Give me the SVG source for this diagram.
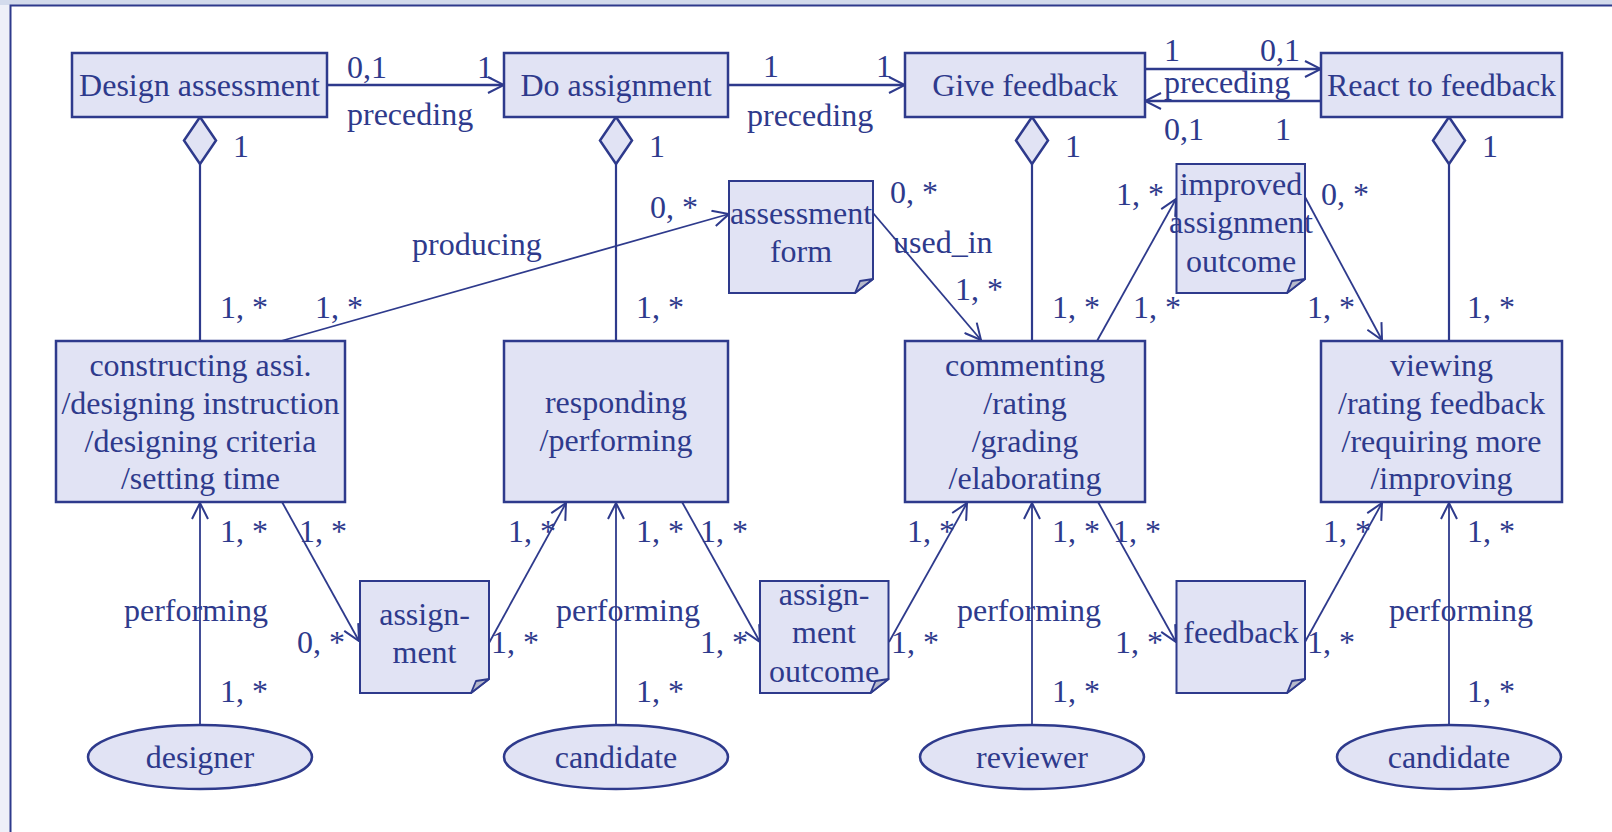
<svg xmlns="http://www.w3.org/2000/svg" width="1612" height="832" viewBox="0 0 1612 832">
<defs>
<style>
text{font-family:"Liberation Serif","Times New Roman",serif;font-size:32px;fill:#2e3a8c}
.c{text-anchor:middle}
.box{fill:#e1e3f4;stroke:#2e3a8c;stroke-width:2.5}
.note{fill:#e1e3f4;stroke:#2e3a8c;stroke-width:2}
.fold{fill:#b7bacb;stroke:#2e3a8c;stroke-width:1.8;stroke-linejoin:round}
.ell{fill:#e1e3f4;stroke:#2e3a8c;stroke-width:2.5}
.dia{fill:#e1e3f4;stroke:#2e3a8c;stroke-width:2.5}
.agg{stroke:#2e3a8c;stroke-width:2.2;fill:none}
.t{stroke:#2e3a8c;stroke-width:2.5;fill:none;marker-end:url(#arr)}
.a{stroke:#2e3a8c;stroke-width:1.8;fill:none;marker-end:url(#arr)}
</style>
<marker id="arr" viewBox="0 0 18 18" refX="17" refY="9" markerWidth="18" markerHeight="18" markerUnits="userSpaceOnUse" orient="auto">
<path d="M1,1 L17,9 L1,17" fill="none" stroke="#2e3a8c" stroke-width="2"/>
</marker>
</defs>
<rect x="0" y="0" width="1612" height="832" fill="#eef0f8"/>
<rect x="0" y="0" width="1612" height="5" fill="#d3dbec"/>
<rect x="10" y="5" width="1602" height="827" fill="#ffffff"/>
<path d="M10.5,840 V5.5 H1620" fill="none" stroke="#2e3a8c" stroke-width="2"/>

<g id="connectors">
<line class="t" x1="327" y1="85" x2="504" y2="85"/>
<line class="t" x1="728" y1="85" x2="905" y2="85"/>
<line class="t" x1="1145" y1="69" x2="1321" y2="69"/>
<line class="t" x1="1321" y1="101" x2="1145" y2="101"/>
<polygon class="dia" points="200,117 216,140.5 200,164 184,140.5"/>
<line class="agg" x1="200" y1="164" x2="200" y2="341"/>
<polygon class="dia" points="616,117 632,140.5 616,164 600,140.5"/>
<line class="agg" x1="616" y1="164" x2="616" y2="341"/>
<polygon class="dia" points="1032,117 1048,140.5 1032,164 1016,140.5"/>
<line class="agg" x1="1032" y1="164" x2="1032" y2="341"/>
<polygon class="dia" points="1449,117 1465,140.5 1449,164 1433,140.5"/>
<line class="agg" x1="1449" y1="164" x2="1449" y2="341"/>
<line class="a" x1="281" y1="341" x2="729" y2="214"/>
<line class="a" x1="873" y1="213" x2="981" y2="340"/>
<line class="a" x1="1097" y1="341" x2="1176" y2="199"/>
<line class="a" x1="1305" y1="197" x2="1382" y2="340"/>
<line class="a" x1="200" y1="725" x2="200" y2="503"/>
<line class="a" x1="282" y1="502" x2="359" y2="641"/>
<line class="a" x1="489" y1="643" x2="566" y2="503"/>
<line class="a" x1="616" y1="725" x2="616" y2="503"/>
<line class="a" x1="682" y1="502" x2="760" y2="642"/>
<line class="a" x1="889" y1="642" x2="967" y2="503"/>
<line class="a" x1="1032" y1="725" x2="1032" y2="503"/>
<line class="a" x1="1098" y1="502" x2="1176" y2="642"/>
<line class="a" x1="1305" y1="642" x2="1382" y2="503"/>
<line class="a" x1="1449" y1="725" x2="1449" y2="503"/>
</g>

<g id="labels">
<text x="347" y="78">0,1</text>
<text x="477" y="78">1</text>
<text x="347" y="125">preceding</text>
<text x="763" y="77">1</text>
<text x="876" y="77">1</text>
<text x="747" y="126">preceding</text>
<text x="1164" y="61">1</text>
<text x="1260" y="61">0,1</text>
<text x="1164" y="93">preceding</text>
<text x="1164" y="140">0,1</text>
<text x="1275" y="140">1</text>
<text x="233" y="157">1</text>
<text x="649" y="157">1</text>
<text x="1065" y="157">1</text>
<text x="1482" y="157">1</text>
<text x="220" y="318">1, *</text>
<text x="636" y="318">1, *</text>
<text x="1052" y="318">1, *</text>
<text x="1467" y="318">1, *</text>
<text x="412" y="255">producing</text>
<text x="650" y="218">0, *</text>
<text x="315" y="318">1, *</text>
<text x="890" y="203">0, *</text>
<text x="893" y="253">used_in</text>
<text x="955" y="300">1, *</text>
<text x="1116" y="205">1, *</text>
<text x="1133" y="318">1, *</text>
<text x="1321" y="205">0, *</text>
<text x="1307" y="318">1, *</text>
<text x="220" y="542">1, *</text>
<text x="220" y="702">1, *</text>
<text x="124" y="621">performing</text>
<text x="299" y="542">1, *</text>
<text x="297" y="653">0, *</text>
<text x="491" y="653">1, *</text>
<text x="508" y="542">1, *</text>
<text x="636" y="542">1, *</text>
<text x="636" y="702">1, *</text>
<text x="556" y="621">performing</text>
<text x="700" y="542">1, *</text>
<text x="700" y="653">1, *</text>
<text x="907" y="542">1, *</text>
<text x="891" y="653">1, *</text>
<text x="1052" y="542">1, *</text>
<text x="1052" y="702">1, *</text>
<text x="957" y="621">performing</text>
<text x="1113" y="542">1, *</text>
<text x="1115" y="653">1, *</text>
<text x="1323" y="542">1, *</text>
<text x="1307" y="653">1, *</text>
<text x="1467" y="542">1, *</text>
<text x="1467" y="702">1, *</text>
<text x="1389" y="621">performing</text>
</g>

<g id="design-assessment"><rect class="box" x="72" y="53" width="255" height="64"/><text class="c" x="199.5" y="96">Design assessment</text></g>
<g id="do-assignment"><rect class="box" x="504" y="53" width="224" height="64"/><text class="c" x="616" y="96">Do assignment</text></g>
<g id="give-feedback"><rect class="box" x="905" y="53" width="240" height="64"/><text class="c" x="1025" y="96">Give feedback</text></g>
<g id="react-to-feedback"><rect class="box" x="1321" y="53" width="241" height="64"/><text class="c" x="1441.5" y="96">React to feedback</text></g>

<g id="constructing"><rect class="box" x="56" y="341" width="289" height="161"/>
<text class="c" x="200.5" y="376">constructing assi.</text>
<text class="c" x="200.5" y="414">/designing instruction</text>
<text class="c" x="200.5" y="452">/designing criteria</text>
<text class="c" x="200.5" y="489">/setting time</text></g>
<g id="responding"><rect class="box" x="504" y="341" width="224" height="161"/>
<text class="c" x="616" y="413">responding</text>
<text class="c" x="616" y="451">/performing</text></g>
<g id="commenting"><rect class="box" x="905" y="341" width="240" height="161"/>
<text class="c" x="1025" y="376">commenting</text>
<text class="c" x="1025" y="414">/rating</text>
<text class="c" x="1025" y="452">/grading</text>
<text class="c" x="1025" y="489">/elaborating</text></g>
<g id="viewing"><rect class="box" x="1321" y="341" width="241" height="161"/>
<text class="c" x="1441.5" y="376">viewing</text>
<text class="c" x="1441.5" y="414">/rating feedback</text>
<text class="c" x="1441.5" y="452">/requiring more</text>
<text class="c" x="1441.5" y="489">/improving</text></g>

<g id="assessment-form"><path class="note" d="M729,181 H873 V279 L855,293 H729 Z"/><path class="fold" d="M873,279 L860,281 L855,293 Z"/>
<text class="c" x="801" y="224">assessment</text><text class="c" x="801" y="262">form</text></g>
<g id="improved-outcome"><path class="note" d="M1176.5,164 H1305 V279 L1287,293 H1176.5 Z"/><path class="fold" d="M1305,279 L1292,281 L1287,293 Z"/>
<text class="c" x="1241" y="195">improved</text><text class="c" x="1241" y="233">assignment</text><text class="c" x="1241" y="272">outcome</text></g>
<g id="assignment"><path class="note" d="M360,581 H489 V679 L471,693 H360 Z"/><path class="fold" d="M489,679 L476,681 L471,693 Z"/>
<text class="c" x="424.5" y="625">assign-</text><text class="c" x="424.5" y="663">ment</text></g>
<g id="assignment-outcome"><path class="note" d="M760,581 H888.5 V679 L870.5,693 H760 Z"/><path class="fold" d="M888.5,679 L875.5,681 L870.5,693 Z"/>
<text class="c" x="824" y="605">assign-</text><text class="c" x="824" y="643">ment</text><text class="c" x="824" y="682">outcome</text></g>
<g id="feedback"><path class="note" d="M1176.5,581 H1305 V679 L1287,693 H1176.5 Z"/><path class="fold" d="M1305,679 L1292,681 L1287,693 Z"/>
<text class="c" x="1241" y="643">feedback</text></g>

<g id="designer"><ellipse class="ell" cx="200" cy="757" rx="112" ry="32"/><text class="c" x="200" y="768">designer</text></g>
<g id="candidate-1"><ellipse class="ell" cx="616" cy="757" rx="112" ry="32"/><text class="c" x="616" y="768">candidate</text></g>
<g id="reviewer"><ellipse class="ell" cx="1032" cy="757" rx="112" ry="32"/><text class="c" x="1032" y="768">reviewer</text></g>
<g id="candidate-2"><ellipse class="ell" cx="1449" cy="757" rx="112" ry="32"/><text class="c" x="1449" y="768">candidate</text></g>
</svg>
